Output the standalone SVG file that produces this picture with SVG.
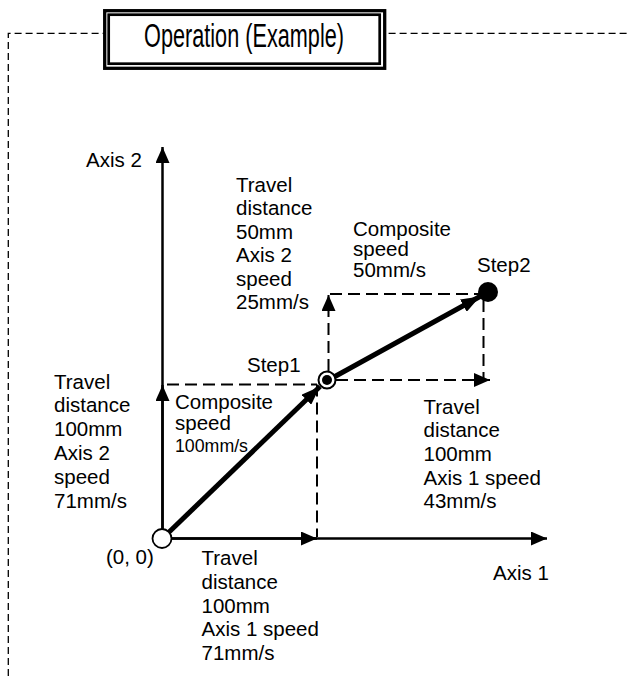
<svg xmlns="http://www.w3.org/2000/svg" width="629" height="676" viewBox="0 0 629 676">
<style>
text{font-family:"Liberation Sans",Arial,sans-serif;font-size:20.5px;fill:#000}
.dash{fill:none;stroke:#000;stroke-width:2;stroke-dasharray:12 6}
.solid{fill:none;stroke:#000;stroke-width:2.5}
.thick{fill:none;stroke:#000;stroke-width:5}
</style>
<defs>
<marker id="arr" viewBox="0 0 16 14" refX="16" refY="7" markerWidth="16" markerHeight="14" markerUnits="userSpaceOnUse" orient="auto"><path d="M0,0 L16,7 L0,14 z" fill="#000"/></marker>
<marker id="arrB" viewBox="0 0 19 14" refX="19" refY="7" markerWidth="19" markerHeight="14" markerUnits="userSpaceOnUse" orient="auto"><path d="M0,0 L19,7 L0,14 z" fill="#000"/></marker>
</defs>
<path d="M8.3,676 V33.3 H629" fill="none" stroke="#000" stroke-width="1.3" stroke-dasharray="7 4"/>
<g id="title">
<rect x="104.7" y="10.7" width="280" height="57.6" fill="#fff" stroke="#000" stroke-width="3.3"/>
<rect x="108.7" y="14.7" width="271" height="49" fill="none" stroke="#000" stroke-width="2.7"/>
<text transform="translate(244,46.5) scale(0.657,1)" text-anchor="middle" style="font-size:33px">Operation (Example)</text>
</g>
<g id="connectors">
<line class="solid" x1="162.5" y1="539" x2="162.5" y2="147" marker-end="url(#arr)"/>
<line class="solid" x1="162.5" y1="539" x2="162.5" y2="385" marker-end="url(#arr)"/>
<line class="solid" x1="162" y1="538.5" x2="547" y2="538.5" marker-end="url(#arr)"/>
<line class="solid" x1="162" y1="538.5" x2="317" y2="538.5" marker-end="url(#arr)"/>
<line class="dash" x1="167" y1="384.5" x2="317" y2="384.5"/>
<line class="dash" x1="317" y1="384.5" x2="317" y2="537"/>
<line class="dash" x1="328.5" y1="371" x2="328.5" y2="295" marker-end="url(#arr)"/>
<line class="dash" x1="330" y1="294" x2="480" y2="294"/>
<line class="dash" x1="336" y1="380" x2="490" y2="380" marker-end="url(#arr)"/>
<line class="dash" x1="483.5" y1="300" x2="483.5" y2="378"/>
<line class="thick" x1="166" y1="535" x2="320" y2="386.5" marker-end="url(#arrB)"/>
<line class="thick" x1="334" y1="377" x2="480" y2="296.5" marker-end="url(#arrB)"/>
</g>
<g id="origin">
<circle cx="162" cy="538.5" r="9.5" fill="#fff" stroke="#000" stroke-width="1.8"/>
<text x="106" y="564">(0, 0)</text>
</g>
<g id="step1">
<circle cx="327" cy="380" r="8.5" fill="#fff" stroke="#000" stroke-width="2"/>
<circle cx="327" cy="380" r="5" fill="#000"/>
<text x="247" y="372">Step1</text>
</g>
<g id="step2">
<circle cx="488" cy="292" r="10" fill="#000"/>
<text x="477" y="272">Step2</text>
</g>
<g id="axis2-label"><text x="86" y="167">Axis 2</text></g>
<g id="axis1-label"><text x="493" y="580">Axis 1</text></g>
<g id="label-step2-axis2">
<text x="236" y="192">Travel</text>
<text x="236" y="215.4">distance</text>
<text x="236" y="238.8">50mm</text>
<text x="236" y="262.2">Axis 2</text>
<text x="236" y="285.6">speed</text>
<text x="236" y="309">25mm/s</text>
</g>
<g id="label-step2-composite">
<text x="353" y="235.5">Composite</text>
<text x="353" y="256">speed</text>
<text x="353" y="276.5">50mm/s</text>
</g>
<g id="label-step1-axis2">
<text x="54" y="388.5">Travel</text>
<text x="54" y="412.3">distance</text>
<text x="54" y="436.1">100mm</text>
<text x="54" y="459.9">Axis 2</text>
<text x="54" y="483.7">speed</text>
<text x="54" y="507.5">71mm/s</text>
</g>
<g id="label-step1-composite">
<text x="175" y="409">Composite</text>
<text x="175" y="429.5">speed</text>
<text x="175" y="451.5" style="font-size:18px" textLength="73" lengthAdjust="spacingAndGlyphs">100mm/s</text>
</g>
<g id="label-step2-axis1">
<text x="423.5" y="413.5">Travel</text>
<text x="423.5" y="437.2">distance</text>
<text x="423.5" y="460.9">100mm</text>
<text x="423.5" y="484.6">Axis 1 speed</text>
<text x="423.5" y="508.3">43mm/s</text>
</g>
<g id="label-step1-axis1">
<text x="201.5" y="565">Travel</text>
<text x="201.5" y="588.8">distance</text>
<text x="201.5" y="612.6">100mm</text>
<text x="201.5" y="636.4">Axis 1 speed</text>
<text x="201.5" y="660.2">71mm/s</text>
</g>
</svg>
